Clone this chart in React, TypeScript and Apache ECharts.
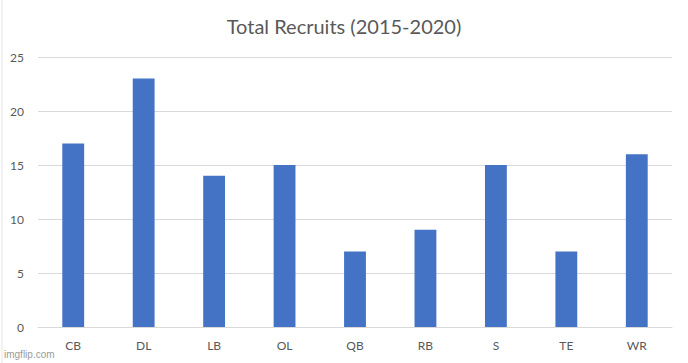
import React, { useEffect, useRef } from "react";
import * as echarts from "echarts";

const categories = ["CB", "DL", "LB", "OL", "QB", "RB", "S", "TE", "WR"];
const recruits = [17, 23, 14, 15, 7, 9, 15, 7, 16];
const titleText = "Total Recruits (2015-2020)";
const watermark = "imgflip.com";

export default function App() {
  const ref = useRef<HTMLDivElement>(null);
  useEffect(() => {
    const chart = echarts.init(ref.current!, null, { renderer: "svg" });
    const font = "Lato, 'Open Sans', sans-serif";
    chart.setOption({
      animation: false,
      backgroundColor: "#ffffff",
      title: {
        text: titleText,
        left: "center",
        top: 11,
        textStyle: { color: "#595959", fontSize: 20, fontWeight: "normal", fontFamily: font },
      },
      grid: { left: 38, right: 16, top: 57, bottom: 36 },
      xAxis: {
        type: "category",
        data: categories,
        axisTick: { show: false },
        axisLine: { lineStyle: { color: "#d9d9d9" } },
        axisLabel: { color: "#595959", fontSize: 12, fontFamily: font, margin: 12 },
      },
      yAxis: {
        type: "value",
        min: 0,
        max: 25,
        interval: 5,
        axisLine: { show: false },
        axisTick: { show: false },
        splitLine: { lineStyle: { color: "#d9d9d9" } },
        axisLabel: { color: "#595959", fontSize: 12, fontFamily: font, margin: 14 },
      },
      series: [
        {
          type: "bar",
          data: recruits,
          barWidth: "31%",
          itemStyle: { color: "#4472C4" },
        },
      ],
      graphic: [
        {
          type: "line",
          shape: { x1: 2, y1: 0, x2: 2, y2: 363 },
          style: { stroke: "#e6e6e6", lineWidth: 1 },
        },
        {
          type: "text",
          left: 4,
          top: 349,
          style: { text: watermark, fill: "#9a9a9a", fontSize: 10, fontFamily: "'Liberation Sans', Arial, sans-serif" },
        },
      ],
    });
    return () => chart.dispose();
  }, []);
  return (
    <div
      ref={ref}
      style={{ position: "fixed", left: 0, top: 0, width: 688, height: 363 }}
    />
  );
}
